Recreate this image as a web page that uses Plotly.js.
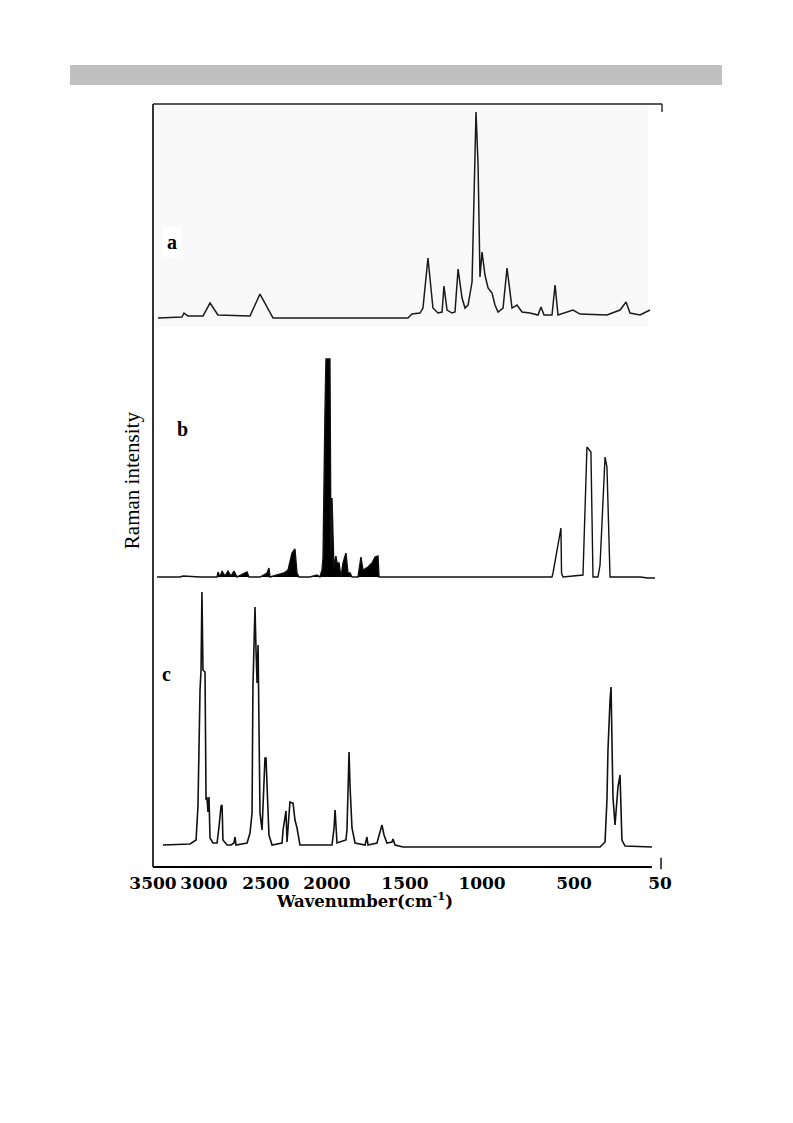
<!DOCTYPE html>
<html><head><meta charset="utf-8">
<script src="https://cdn.plot.ly/plotly-3.0.1.min.js"></script>
<style>html,body{margin:0;padding:0;background:#fff}#chart{width:793px;height:1123px}</style>
</head><body><div id="chart"></div>
<script>
// x axis: nominal wavenumber positions of the printed (non-uniform) tick labels
const tickVals = [3500, 3153, 2731, 2316, 1785, 1261, 635, 50];
const tickLabels = ['3500', '3000', '2500', '2000', '1500', '1000', '500', '50'];

// spectrum a (top)
const aX = [3466,3303,3289,3262,3160,3112,3058,2840,2772,2683,1765,1738,1683,1663,1629,1595,1561,1533,1520,1499,1465,1445,1424,1397,1377,1356,1329,1302,1288,1275,1261,1241,1220,1193,1173,1152,1118,1091,1057,1023,989,935,880,860,839,785,764,744,642,594,411,322,281,254,186,118];
const aY = [0,1,5,2,2,15,3,2,24,0,0,4,5,10,60,10,5,6,32,8,5,6,49,20,10,13,36,206,153,41,66,43,30,25,13,6,10,50,10,13,6,5,3,11,3,3,33,3,8,4,3,8,16,5,3,8];

// spectrum b (middle): dense filled part and line part
const bFillX = [3473,3316,3296,3180,3064,3058,3044,3030,3010,2990,2969,2949,2928,2860,2847,2772,2724,2711,2704,2609,2581,2568,2554,2534,2520,2507,2432,2384,2364,2350,2343,2330,2323,2296,2289,2282,2275,2269,2255,2248,2234,2221,2207,2187,2173,2159,2146,2105,2085,2071,2037,2010,1989,1969,1962,1955];
const bFillY = [0,0,1,0,0,5,0,6,1,6,1,6,0,5,0,0,4,9,0,4,7,14,24,28,4,0,0,2,0,7,19,162,218,218,25,79,24,10,21,14,14,0,14,24,4,4,0,0,20,7,10,14,20,21,0,0];
const bLineX = [1955,785,778,724,720,710,574,547,520,506,472,458,424,411,390,186,132,84];
const bLineY = [0,0,4,49,4,0,2,130,125,0,0,12,120,110,0,0,-1,-1];

// spectrum c (bottom)
const cX = [3432,3248,3207,3194,3180,3173,3167,3160,3146,3139,3133,3126,3119,3112,3092,3064,3051,3037,3030,3024,2996,2969,2949,2942,2935,2860,2840,2826,2820,2806,2799,2792,2785,2779,2772,2758,2745,2738,2731,2717,2711,2690,2622,2615,2595,2588,2575,2568,2554,2547,2534,2520,2500,2282,2268,2261,2248,2187,2180,2173,2166,2159,2146,2125,2057,2044,2037,1976,1955,1942,1928,1908,1874,1867,1853,1799,458,424,411,404,390,383,377,370,356,343,336,322,316,309,288,104];
const cY = [0,1,5,39,155,175,253,175,173,45,48,33,48,7,2,2,18,39,40,5,0,0,2,8,0,2,12,32,158,238,195,162,200,125,32,15,58,87,87,38,10,0,2,15,34,3,25,43,42,42,25,17,0,0,17,35,2,5,15,52,93,58,17,2,0,8,0,2,12,20,10,2,3,6,0,-2,-2,3,45,95,145,158,105,48,20,48,58,70,45,5,-1,-2];

const panelLabels = ['a', 'b', 'c'];
const xTitle = 'Wavenumber(cm<sup>-1</sup>)';
const yTitle = 'Raman intensity';

const lineStyle = {color: '#111', width: 1.4};
const traces = [
  {x: aX, y: aY, xaxis: 'x', yaxis: 'y3', mode: 'lines', line: {color: '#1a1a1a', width: 1.5}},
  {x: bFillX, y: bFillY, xaxis: 'x', yaxis: 'y2', mode: 'lines', line: lineStyle, fill: 'tozeroy', fillcolor: '#000'},
  {x: bLineX, y: bLineY, xaxis: 'x', yaxis: 'y2', mode: 'lines', line: lineStyle},
  {x: cX, y: cY, xaxis: 'x', yaxis: 'y', mode: 'lines', line: {color: '#111', width: 1.6}}
];

const hidden = {showgrid: false, zeroline: false, showline: false, showticklabels: false, ticks: '', fixedrange: true};
const serifB = {family: 'DejaVu Serif', size: 17, color: '#000', weight: 'bold'};
const labelFont = {family: 'Liberation Serif', size: 20, color: '#000', weight: 'bold'};

const layout = {
  width: 793, height: 1123,
  margin: {l: 153, r: 133, t: 104, b: 256},
  paper_bgcolor: '#fff', plot_bgcolor: 'rgba(0,0,0,0)',
  showlegend: false,
  xaxis: {range: [3500, 50], autorange: false, showgrid: false, zeroline: false, showline: false,
          tickmode: 'array', tickvals: tickVals, ticktext: tickLabels, ticks: '', ticklabelstandoff: 4,
          tickfont: serifB, anchor: 'y'},
  yaxis: Object.assign({domain: [0, 0.3696], range: [-22, 260], anchor: 'x'}, hidden),
  yaxis2: Object.assign({domain: [0.3696, 0.6972], range: [-8, 242], anchor: 'x'}, hidden),
  yaxis3: Object.assign({domain: [0.6972, 1], range: [-17, 214], anchor: 'x'}, hidden),
  shapes: [
    {type: 'rect', xref: 'paper', yref: 'paper', x0: -0.1637, x1: 1.1223, y0: 1.0249, y1: 1.0511, fillcolor: '#c0c0c0', line: {width: 0}, layer: 'below'},
    {type: 'rect', xref: 'paper', yref: 'paper', x0: 0.004, x1: 0.976, y0: 0.708, y1: 1, fillcolor: '#f9f9f9', line: {width: 0}, layer: 'below'},
    {type: 'line', xref: 'paper', yref: 'paper', x0: 0, x1: 0, y0: 0, y1: 1, line: {color: '#000', width: 1.6}},
    {type: 'line', xref: 'paper', yref: 'paper', x0: 0, x1: 1.004, y0: 1, y1: 1, line: {color: '#222', width: 1.4}},
    {type: 'line', xref: 'paper', yref: 'paper', x0: 1.004, x1: 1.004, y0: 1, y1: 0.9895, line: {color: '#222', width: 1.4}},
    {type: 'line', xref: 'paper', yref: 'paper', x0: 0, x1: 0.984, y0: 0, y1: 0, line: {color: '#000', width: 1.8}},
    {type: 'line', xref: 'paper', yref: 'paper', x0: 1.002, x1: 1.002, y0: -0.003, y1: 0.012, line: {color: '#000', width: 1.4}}
  ],
  annotations: [
    {text: panelLabels[0], x: 3371, y: 76, xref: 'x', yref: 'y3', xanchor: 'center', yanchor: 'middle', showarrow: false, bgcolor: '#fff', borderpad: 4, font: labelFont},
    {text: panelLabels[1], x: 3296, y: 148, xref: 'x', yref: 'y2', xanchor: 'center', yanchor: 'middle', showarrow: false, font: labelFont},
    {text: panelLabels[2], x: 3405, y: 171, xref: 'x', yref: 'y', xanchor: 'center', yanchor: 'middle', showarrow: false, font: labelFont},
    {text: xTitle, x: 0.418, y: -0.0433, xref: 'paper', yref: 'paper', xanchor: 'center', yanchor: 'middle', showarrow: false,
     font: {family: 'DejaVu Serif', size: 16.5, color: '#000', weight: 'bold'}},
    {text: yTitle, x: -0.0414, y: 0.507, xref: 'paper', yref: 'paper', xanchor: 'center', yanchor: 'middle', showarrow: false, textangle: -90,
     font: {family: 'Liberation Serif', size: 21, color: '#000'}}
  ]
};

Plotly.newPlot('chart', traces, layout, {staticPlot: true, displayModeBar: false});
</script>
</body></html>
